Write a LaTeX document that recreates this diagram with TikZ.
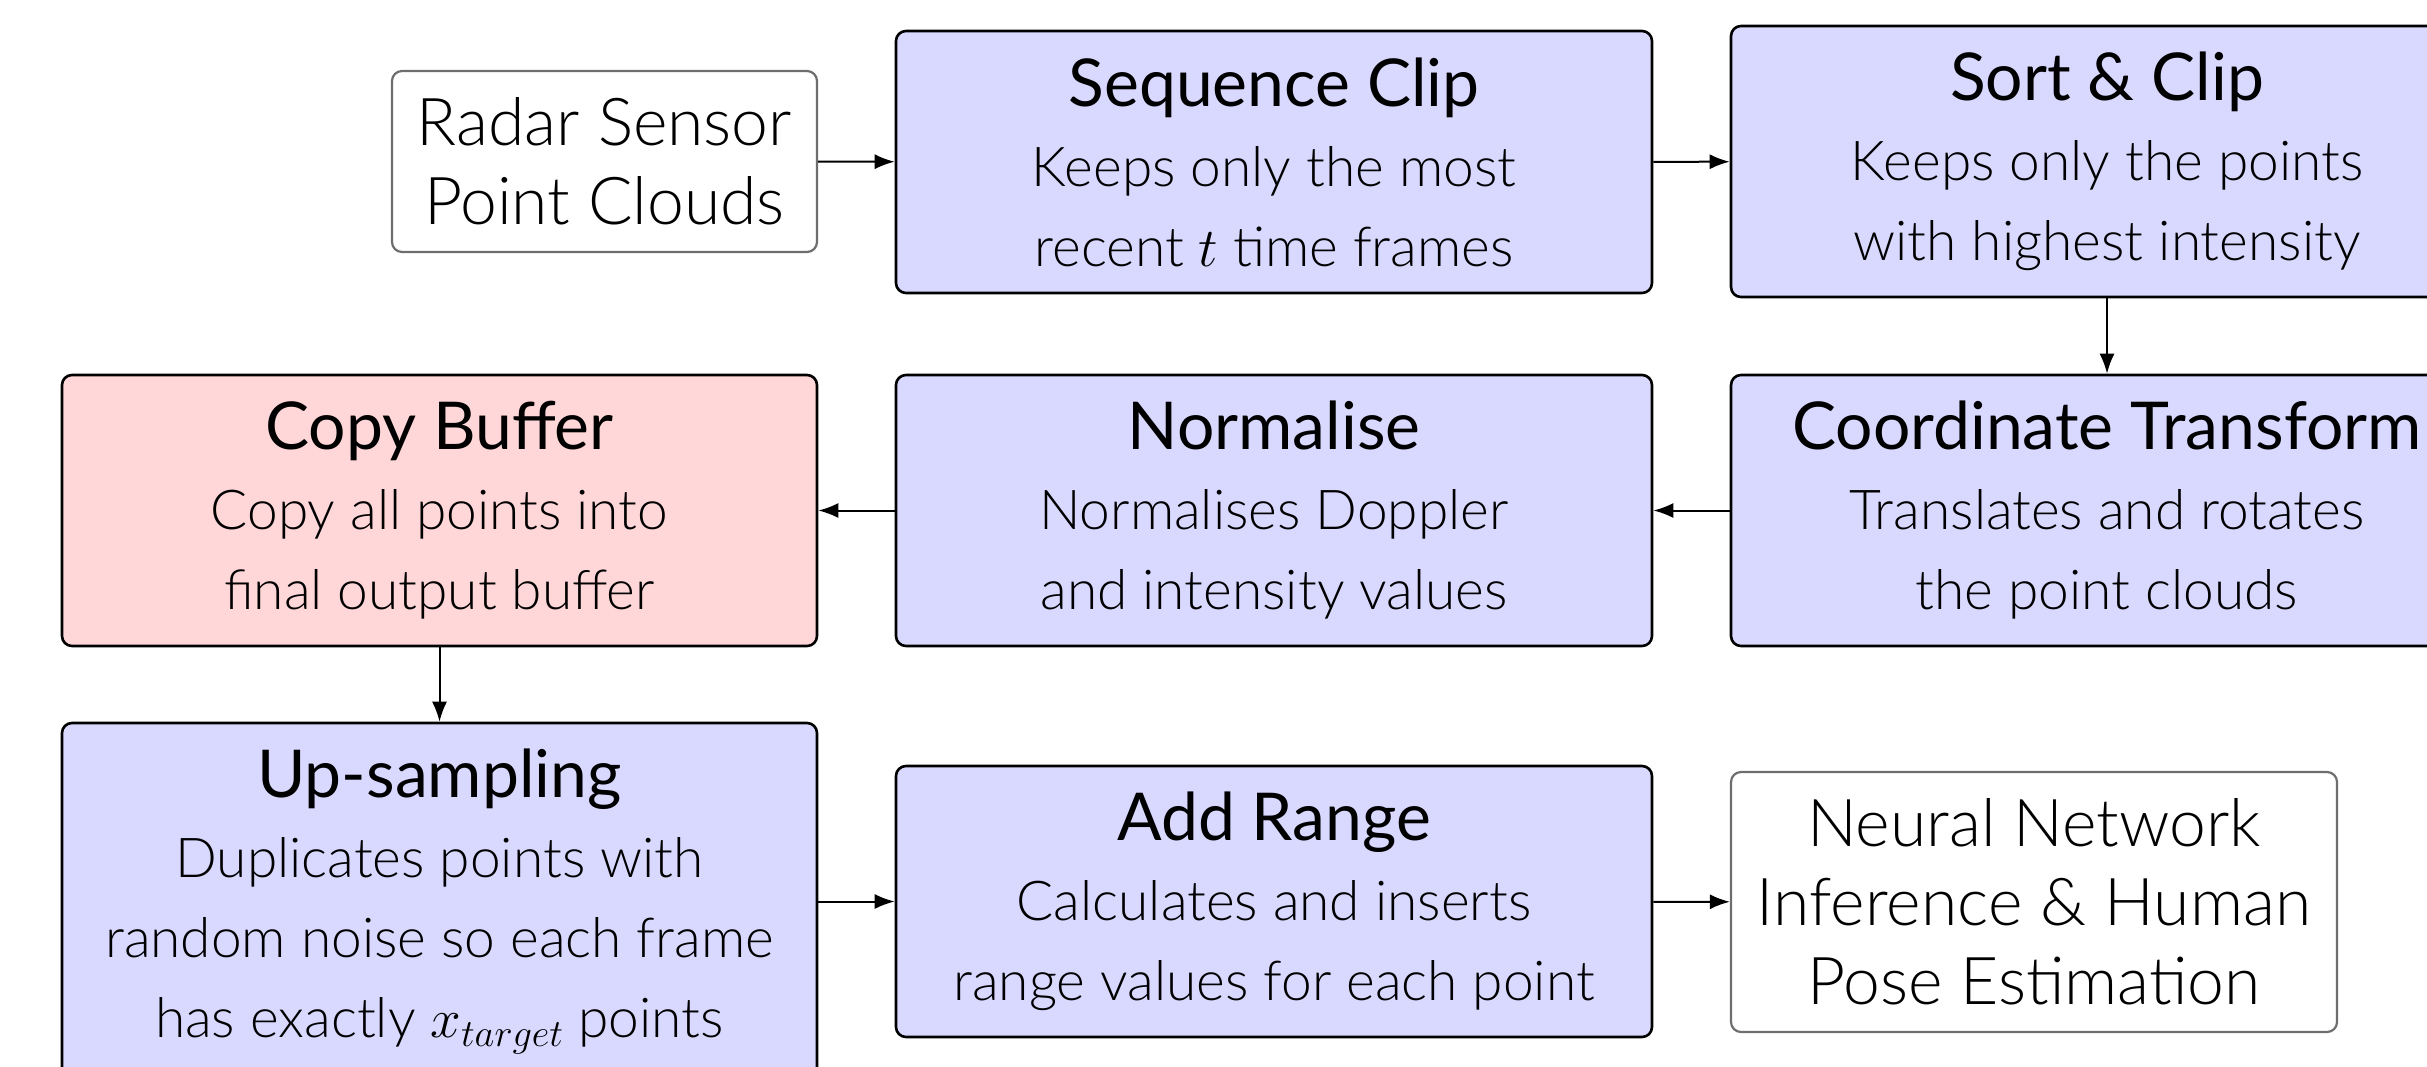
\RequirePackage{fix-cm}
\documentclass[tikz,border=0pt]{standalone}
\usepackage{fontspec}
\setmainfont{Lato}
\newfontfamily\lightfont{Lato Light}
\usetikzlibrary{arrows.meta}
\definecolor{stepblue}{RGB}{217,217,255}
\definecolor{stepred}{RGB}{255,215,217}
\definecolor{ioedge}{RGB}{110,110,110}
\begin{document}
\begin{tikzpicture}[x=1pt,y=-1pt,
  base/.style={rounded corners=10pt, inner sep=0pt, align=center},
  stepbox/.style={base, draw=black, line width=2.6pt, fill=stepblue,
    font=\lightfont\fontsize{55}{80}\selectfont},
  bufbox/.style={stepbox, fill=stepred},
  iobox/.style={base, draw=ioedge, line width=2.2pt, fill=white,
    font=\lightfont\fontsize{66}{79}\selectfont},
  flow/.style={line width=2pt, -{Latex[length=20pt,width=15pt]}},
]
\newcommand{\steptitle}[1]{{\normalfont\fontsize{66}{80}\selectfont #1}}
\useasboundingbox (0,0) rectangle (2427,1066);

% first row
\node[iobox, minimum width=425pt, minimum height=181pt] (radar) at (604.5,161.5)
  {Radar Sensor\\Point Clouds};
\node[stepbox, minimum width=756pt, minimum height=262pt] (seq) at (1274,162)
  {\steptitle{Sequence Clip}\\Keeps only the most\\recent $t$ time frames};
\node[stepbox, minimum width=752pt, minimum height=271pt] (sort) at (2107,161.5)
  {\steptitle{Sort \& Clip}\\Keeps only the points\\with highest intensity};

% second row
\node[bufbox, minimum width=755pt, minimum height=271pt] (copy) at (439.5,510.5)
  {\steptitle{Copy Buffer}\\Copy all points into\\final output buffer};
\node[stepbox, minimum width=756pt, minimum height=271pt] (norm) at (1274,510.5)
  {\steptitle{Normalise}\\Normalises Doppler\\and intensity values};
\node[stepbox, minimum width=752pt, minimum height=271pt] (coord) at (2107,510.5)
  {\steptitle{Coordinate Transform}\\Translates and rotates\\the point clouds};

% third row
\node[stepbox, minimum width=755pt, minimum height=357pt] (up) at (439.5,901.5)
  {\steptitle{Up-sampling}\\Duplicates points with\\random noise so each frame\\has exactly $x_{target}$ points};
\node[stepbox, minimum width=756pt, minimum height=271pt] (add) at (1274,901.5)
  {\steptitle{Add Range}\\Calculates and inserts\\range values for each point};
\node[iobox, minimum width=606pt, minimum height=260pt] (nn) at (2034,902)
  {Neural Network\\Inference \& Human\\Pose Estimation};

% connectors
\draw[flow] (radar) -- (seq);
\draw[flow] (seq) -- (sort);
\draw[flow] (sort) -- (coord);
\draw[flow] (coord) -- (norm);
\draw[flow] (norm) -- (copy);
\draw[flow] (copy) -- (up);
\draw[flow] (up.east |- add.west) -- (add.west);
\draw[flow] (add) -- (nn);
\end{tikzpicture}
\end{document}
